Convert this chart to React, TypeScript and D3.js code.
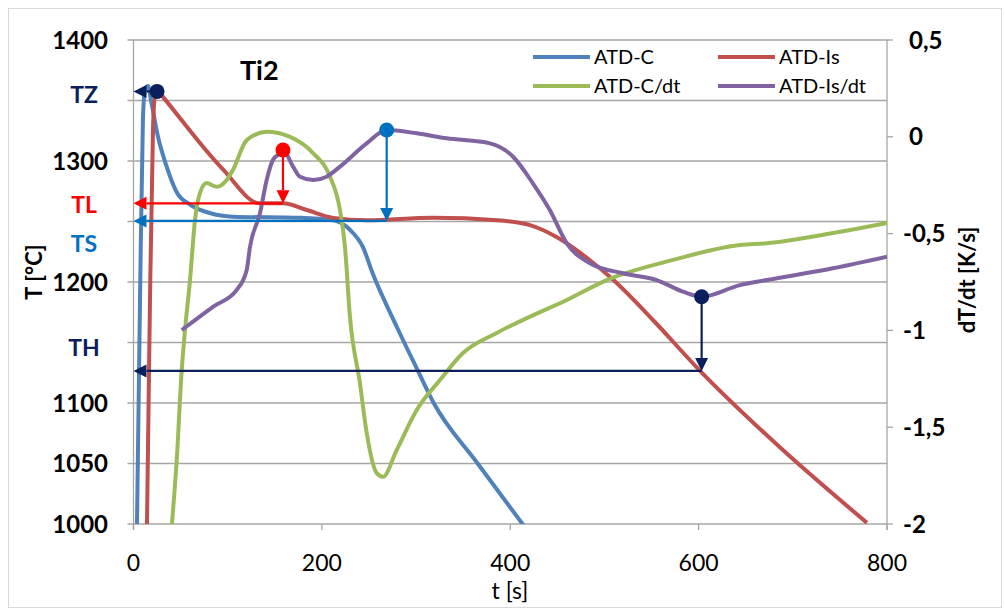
import * as d3 from 'd3';
import React from 'react';

// ATD-C : temperature of the cup [°C]
const cTime = [3.7, 6.9, 10, 12.2, 15.4, 18.6, 26, 34.5, 46, 60, 81, 105.6, 177, 212, 230, 243.5, 254, 279.5, 302, 318, 365, 414];
const cTemp = [1000, 1185, 1334, 1359, 1362, 1350, 1320, 1297, 1274, 1264, 1257, 1254, 1253, 1251, 1243, 1229, 1207, 1163, 1126.5, 1101, 1050.4, 999];

// ATD-Is : temperature of the sample [°C]
const isTime = [14.3, 17.5, 20.7, 22.8, 25, 31.3, 95, 134, 158.7, 184, 212, 248, 318, 386, 421, 449.6, 484.6, 509, 551.5, 601, 686, 778.7];
const isTemp = [1000, 1185, 1326, 1355, 1359, 1353, 1293, 1265, 1265, 1259.5, 1253, 1251, 1253, 1251, 1247, 1237, 1218, 1202, 1168.6, 1127, 1063.6, 1001];

// ATD-C/dt [K/s]
const cRateTime = [40.8, 45.9, 51.2, 54.7, 60, 65.3, 70.6, 77.7, 88.3, 99, 105.6, 120.2, 141.4, 166.2, 190.6, 208.6, 219.2, 224.5, 229.8, 240.4, 247.6, 258.2, 264.9, 279.4, 300.7, 325.4, 349.8, 385.6, 421, 460, 502.4, 572.8, 643.9, 672.3, 742.6, 800];
const cRate = [-2.0, -1.669, -1.205, -0.998, -0.74, -0.43, -0.29, -0.239, -0.258, -0.223, -0.171, -0.017, 0.026, 0.0, -0.084, -0.206, -0.378, -0.568, -0.929, -1.272, -1.53, -1.737, -1.756, -1.618, -1.411, -1.256, -1.117, -1.013, -0.929, -0.843, -0.74, -0.636, -0.559, -0.55, -0.497, -0.445];

// ATD-Is/dt [K/s]
const isRateTime = [51.2, 84.4, 109.6, 120.2, 123.7, 134.3, 141.4, 148, 155.5, 158.7, 169.4, 176.8, 190.9, 205, 219.2, 247.6, 268.8, 300.7, 332.5, 378.5, 403, 424, 442, 460, 484.7, 519.7, 555.5, 583.4, 603.2, 643.9, 672.3, 742.6, 800];
const isRate = [-0.998, -0.878, -0.791, -0.688, -0.568, -0.394, -0.223, -0.12, -0.085, -0.068, -0.154, -0.206, -0.223, -0.206, -0.154, -0.034, 0.035, 0.018, -0.008, -0.034, -0.103, -0.24, -0.378, -0.55, -0.653, -0.705, -0.74, -0.8, -0.826, -0.766, -0.74, -0.679, -0.619];

const xTicks = [0, 200, 400, 600, 800];
const leftGrid = [1000, 1050, 1100, 1150, 1200, 1250, 1300, 1350, 1400];
const leftLabels = [1400, 1300, 1200, 1100, 1050, 1000];
const rightTicks = [0.5, 0, -0.5, -1, -1.5, -2];

// characteristic points: label, time, rate of the dot (right axis), temperature of the arrow (left axis)
const markNames = ['TZ', 'TL', 'TS', 'TH'];
const markTime = [25, 158.7, 268.8, 603.2];
const markRate = [null, -0.068, 0.035, -0.826];
const markTemp = [1357.5, 1265, 1250.5, 1126.5];
const markColors = ['#0a1f5c', '#ff0000', '#0070c0', '#0a1f5c'];
const markLabelTemp = [1355, 1264, 1232, 1146];

const legendNames = ['ATD-C', 'ATD-Is', 'ATD-C/dt', 'ATD-Is/dt'];
const colors = ['#4f81bd', '#c0504d', '#9bbb59', '#8064a2'];

const W = 1005, H = 609;
const margin = { left: 133.5, right: 118, top: 40, bottom: 85 };
const font = 'Lato, "Open Sans", sans-serif';

export default function App() {
  const x = d3.scaleLinear().domain([0, 800]).range([margin.left, W - margin.right]);
  const yL = d3.scaleLinear().domain([1000, 1400]).range([H - margin.bottom, margin.top]);
  const yR = d3.scaleLinear().domain([-2, 0.5]).range([H - margin.bottom, margin.top]);

  const line = (ts: number[], vs: number[], y: d3.ScaleLinear<number, number>) =>
    d3.line<number>()
      .x((d, i) => x(ts[i]))
      .y((d) => y(d))
      .curve(d3.curveMonotoneX)(vs) || '';

  const series = [
    line(cTime, cTemp, yL),
    line(isTime, isTemp, yL),
    line(cRateTime, cRate, yR),
    line(isRateTime, isRate, yR),
  ];

  const x0 = x(0), x1 = x(800), yTop = yL(1400), yBot = yL(1000);
  const ah = 13, aw = 6.5;

  return (
    <svg width={W} height={H} style={{ position: 'absolute', left: 0, top: 0, background: '#fff' }}>
      <defs>
        <clipPath id="plot">
          <rect x={x0} y={yTop - 10} width={x1 - x0} height={yBot - yTop + 10} />
        </clipPath>
      </defs>
      <rect x={8.5} y={8.5} width={W - 12} height={H - 10} fill="none" stroke="#d9d9d9" />

      {/* gridlines + axis ticks */}
      {leftGrid.map((v) => (
        <line key={v} x1={x0 - 6} x2={x1} y1={yL(v)} y2={yL(v)} stroke="#a6a6a6" strokeWidth={1.3} />
      ))}
      <line x1={x0} x2={x0} y1={yTop} y2={yBot + 6} stroke="#a6a6a6" strokeWidth={1.3} />
      <line x1={x1} x2={x1} y1={yTop} y2={yBot + 6} stroke="#a6a6a6" strokeWidth={1.3} />
      {xTicks.map((v) => (
        <line key={v} x1={x(v)} x2={x(v)} y1={yBot} y2={yBot + 6} stroke="#a6a6a6" strokeWidth={1.3} />
      ))}
      {rightTicks.map((v) => (
        <line key={v} x1={x1} x2={x1 + 6} y1={yR(v)} y2={yR(v)} stroke="#a6a6a6" strokeWidth={1.3} />
      ))}

      {/* tick labels */}
      {leftLabels.map((v) => (
        <text key={v} x={108} y={yL(v)} dy="0.36em" textAnchor="end" fontFamily={font} fontWeight="bold" fontSize={24} fill="#000">{v}</text>
      ))}
      {rightTicks.map((v) => (
        <text key={v} x={v < 0 ? 903 : 909} y={yR(v)} dy="0.36em" fontFamily={font} fontWeight="bold" fontSize={24} fill="#000">{String(v).replace('.', ',')}</text>
      ))}
      {xTicks.map((v) => (
        <text key={v} x={x(v)} y={yBot + 39} dy="0.36em" textAnchor="middle" fontFamily={font} fontSize={23} fill="#000">{v}</text>
      ))}

      {/* axis titles */}
      <text x={510} y={599} textAnchor="middle" fontFamily={font} fontSize={23} fill="#000">t [s]</text>
      <text transform="translate(42,272) rotate(-90)" textAnchor="middle" fontFamily={font} fontWeight="bold" fontSize={22} fill="#000">T [°C]</text>
      <text transform="translate(975,280) rotate(-90)" textAnchor="middle" fontFamily={font} fontWeight="bold" fontSize={22} fill="#000">dT/dt [K/s]</text>
      <text x={240} y={80} fontFamily={font} fontWeight="bold" fontSize={27} fill="#000">Ti2</text>

      {/* series */}
      <g clipPath="url(#plot)">
        {series.map((d, i) => (
          <path key={i} d={d} fill="none" stroke={colors[i]} strokeWidth={4} strokeLinejoin="round" />
        ))}
      </g>

      {/* characteristic points */}
      {markNames.map((n, i) => {
        const mx = x(markTime[i]);
        const my = yL(markTemp[i]);
        const c = markColors[i];
        const r = markRate[i];
        return (
          <g key={n}>
            <line x1={x0 + ah} x2={mx} y1={my} y2={my} stroke={c} strokeWidth={2.2} />
            <polygon points={`${x0},${my} ${x0 + ah},${my - aw} ${x0 + ah},${my + aw}`} fill={c} />
            {r !== null && (
              <g>
                <line x1={mx} x2={mx} y1={yR(r)} y2={my - ah} stroke={c} strokeWidth={2.2} />
                <polygon points={`${mx},${my} ${mx - aw},${my - ah} ${mx + aw},${my - ah}`} fill={c} />
                <circle cx={mx} cy={yR(r)} r={7.5} fill={c} />
              </g>
            )}
            {r === null && <circle cx={mx} cy={my} r={7.5} fill={c} />}
            <text x={84} y={yL(markLabelTemp[i])} dy="0.36em" textAnchor="middle" fontFamily={font} fontWeight="bold" fontSize={23} fill={c}>{n}</text>
          </g>
        );
      })}

      {/* legend */}
      {legendNames.map((n, i) => {
        const lx = i % 2 === 0 ? 533 : 718;
        const ly = i < 2 ? 57 : 86;
        return (
          <g key={n}>
            <line x1={lx} x2={lx + 57} y1={ly} y2={ly} stroke={colors[i]} strokeWidth={4} />
            <text x={lx + 61} y={ly} dy="0.36em" fontFamily={font} fontSize={20} fill="#000">{n}</text>
          </g>
        );
      })}
    </svg>
  );
}
